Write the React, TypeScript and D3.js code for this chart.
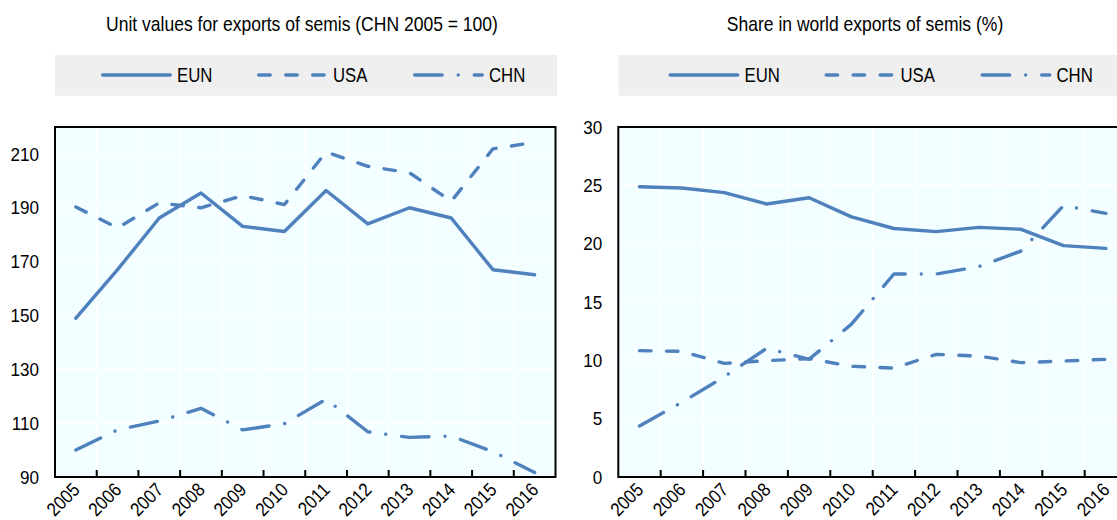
import React from 'react';
import * as d3 from 'd3';

const years = ['2005', '2006', '2007', '2008', '2009', '2010', '2011', '2012', '2013', '2014', '2015', '2016'];
const seriesNames = ['EUN', 'USA', 'CHN'];

const unitEUN = [149, 167, 186.2, 195.5, 183.1, 181.2, 196.4, 184, 190, 186.2, 167, 165.1];
const unitUSA = [190.3, 182.5, 191.8, 190, 194.5, 191.2, 210.7, 205.4, 203, 192.4, 211.9, 214.3];
const unitCHN = [100, 107.5, 110.8, 115.5, 107.5, 109.8, 118.9, 106.8, 104.7, 105.2, 99.4, 91.7];

const shareEUN = [24.88, 24.77, 24.37, 23.4, 23.94, 22.3, 21.3, 21.03, 21.4, 21.23, 19.83, 19.6];
const shareUSA = [10.83, 10.77, 9.74, 9.97, 10.14, 9.49, 9.34, 10.51, 10.37, 9.8, 9.94, 10.09];
const shareCHN = [4.37, 6.4, 8.6, 11.03, 10.09, 13.1, 17.4, 17.4, 18.03, 19.37, 23.26, 22.6];

const unitTicks = [90, 110, 130, 150, 170, 190, 210];
const shareTicks = [0, 5, 10, 15, 20, 25, 30];

const BLUE = '#4F81BD';
const FONT = "'Liberation Sans', Arial, sans-serif";
const LW = 3.4;
const dashes = ['', '11.5,15.5', '27.5,16,0.01,16'];

function T({ x, y, children, size = 19, sx = 0.87, anchor = 'start', rotate = 0 }: any) {
  return (
    <text
      transform={`translate(${x},${y}) rotate(${rotate}) scale(${sx},1)`}
      fontSize={size}
      fontFamily={FONT}
      textAnchor={anchor}
      fill="#000"
    >
      {children}
    </text>
  );
}

function Panel({ title, titleX, x0, width, domain, ticks, data }: any) {
  const top = 127;
  const bottom = 477;
  const x = d3.scaleBand<string>().domain(years).range([x0, x0 + width]).paddingInner(0).paddingOuter(0);
  const y = d3.scaleLinear().domain(domain).range([bottom, top]);
  const bw = x.bandwidth();
  const line = d3
    .line<number>()
    .x((_, i) => (x(years[i]) as number) + bw / 2)
    .y((v) => y(v));
  const boundaries = years.slice(1).map((yr) => x(yr) as number);
  const boxL = x0;
  const boxR = x0 + width + 1.5;
  const legCenter = (boxL + boxR) / 2 + 5;
  const legStart = legCenter - 210;
  return (
    <g>
      <T x={titleX} y={31} anchor="middle" size={19.8} sx={0.885}>
        {title}
      </T>
      <rect x={boxL} y={55} width={boxR - boxL} height={40.7} fill="#EFEFEF" />
      {seriesNames.map((name, i) => {
        const sx0 = legStart + 156 * i;
        return (
          <g key={name}>
            <line
              x1={sx0 + 1.7}
              x2={sx0 + 69.3}
              y1={75}
              y2={75}
              stroke={BLUE}
              strokeWidth={LW}
              strokeLinecap="round"
              strokeDasharray={dashes[i] || undefined}
            />
            <T x={sx0 + 76} y={82.3} size={19.5} sx={0.86}>
              {name}
            </T>
          </g>
        );
      })}
      <rect x={x0} y={top} width={width} height={bottom - top} fill="#F2FEFF" />
      {ticks.slice(1).map((t: number) => (
        <line key={'h' + t} x1={x0} x2={x0 + width} y1={y(t)} y2={y(t)} stroke="#fff" strokeWidth={1.5} />
      ))}
      {boundaries.map((bx, i) => (
        <line key={'v' + i} x1={bx} x2={bx} y1={top} y2={bottom} stroke="#fff" strokeWidth={1.5} />
      ))}
      {data.map((vals: number[], i: number) => (
        <path
          key={'s' + i}
          d={line(vals) as string}
          fill="none"
          stroke={BLUE}
          strokeWidth={LW}
          strokeLinecap="round"
          strokeLinejoin="round"
          strokeDasharray={dashes[i] || undefined}
        />
      ))}
      <rect x={x0} y={top} width={width} height={bottom - top} fill="none" stroke="#000" strokeWidth={2} />
      {boundaries.map((bx, i) => (
        <line key={'t' + i} x1={bx} x2={bx} y1={bottom} y2={bottom - 7} stroke="#000" strokeWidth={2} />
      ))}
      {ticks.map((t: number) => (
        <T key={'yl' + t} x={x0 - 16} y={y(t) + 6.7} anchor="end" size={19} sx={0.9}>
          {String(t)}
        </T>
      ))}
      {years.map((yr) => (
        <T key={'xl' + yr} x={(x(yr) as number) + bw / 2 + 5} y={491} anchor="end" size={19} sx={0.88} rotate={-45}>
          {yr}
        </T>
      ))}
    </g>
  );
}

export default function App() {
  return (
    <svg
      width={1117}
      height={520}
      style={{ position: 'absolute', left: 0, top: 0, overflow: 'hidden', background: '#fff' }}
    >
      <rect x={0} y={0} width={1117} height={520} fill="#fff" />
      <Panel
        title="Unit values for exports of semis (CHN 2005 = 100)"
        titleX={302}
        x0={55}
        width={500.5}
        domain={[90, 220]}
        ticks={unitTicks}
        data={[unitEUN, unitUSA, unitCHN]}
      />
      <Panel
        title="Share in world exports of semis (%)"
        titleX={865}
        x0={618.3}
        width={508.8}
        domain={[0, 30]}
        ticks={shareTicks}
        data={[shareEUN, shareUSA, shareCHN]}
      />
    </svg>
  );
}
